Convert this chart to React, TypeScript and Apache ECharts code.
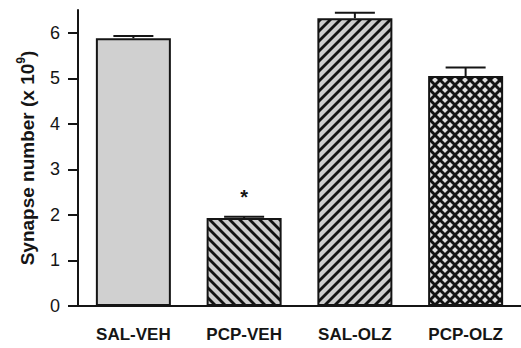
import React, { useEffect, useRef } from "react";
import * as echarts from "echarts";

const categories = ["SAL-VEH", "PCP-VEH", "SAL-OLZ", "PCP-OLZ"];
const values = [5.88, 1.93, 6.32, 5.05];
const errors = [0.05, 0.03, 0.12, 0.19];
const significance = ["", "*", "", ""];
const yTicks = [0, 1, 2, 3, 4, 5, 6];
const patterns = ["solid", "back", "fwd", "cross"];

const FONT = "'Liberation Sans', Arial, Helvetica, sans-serif";
const INK = "#151515";

function makeTile(kind: string): any {
  const size = 10;
  const c = document.createElement("canvas");
  c.width = size;
  c.height = size;
  const g = c.getContext("2d")!;
  g.fillStyle = kind === "cross" ? "#dedede" : "#cccccc";
  g.fillRect(0, 0, size, size);
  g.strokeStyle = "#111";
  g.lineCap = "butt";
  const drawBack = (w: number) => {
    g.lineWidth = w;
    for (let k = -1; k <= 1; k++) {
      g.beginPath();
      g.moveTo(k * size - 2, -2);
      g.lineTo(k * size + size + 2, size + 2);
      g.stroke();
    }
  };
  const drawFwd = (w: number) => {
    g.lineWidth = w;
    for (let k = -1; k <= 1; k++) {
      g.beginPath();
      g.moveTo(k * size - 2, size + 2);
      g.lineTo(k * size + size + 2, -2);
      g.stroke();
    }
  };
  if (kind === "back") drawBack(2.8);
  if (kind === "fwd") drawFwd(2.8);
  if (kind === "cross") {
    drawBack(2.9);
    drawFwd(2.9);
  }
  return c;
}

export default function App() {
  const ref = useRef<HTMLDivElement>(null);
  useEffect(() => {
    if (!ref.current) return;
    const chart = echarts.init(ref.current, undefined, { renderer: "svg" });
    const barData = values.map((v, i) => {
      const kind = patterns[i];
      const color =
        kind === "solid"
          ? "#d0d0d0"
          : { image: makeTile(kind), repeat: "repeat" };
      return {
        value: v,
        itemStyle: { color, borderColor: INK, borderWidth: 2 },
      };
    });
    chart.setOption({
      animation: false,
      grid: { left: 78, right: 0, top: 10, bottom: 42, containLabel: false },
      xAxis: {
        type: "category",
        data: categories,
        axisLine: { lineStyle: { color: INK, width: 2 } },
        axisTick: {
          alignWithLabel: true,
          length: 9,
          lineStyle: { color: INK, width: 2 },
        },
        axisLabel: {
          color: INK,
          fontFamily: FONT,
          fontWeight: "bold",
          fontSize: 17,
          margin: 20,
        },
      },
      yAxis: {
        type: "value",
        min: 0,
        max: 6.5,
        interval: 1,
        splitLine: { show: false },
        axisLine: { show: true, lineStyle: { color: INK, width: 2 } },
        axisTick: {
          show: true,
          length: 10,
          customValues: yTicks,
          lineStyle: { color: INK, width: 2 },
        },
        axisLabel: {
          color: INK,
          fontFamily: FONT,
          fontSize: 18,
          margin: 18,
          customValues: yTicks,
        },
        name: "{a|Synapse number (x 10}{s|9}{a|)}",
        nameLocation: "middle",
        nameGap: 39,
        nameRotate: 90,
        nameTextStyle: {
          rich: {
            a: {
              fontFamily: FONT,
              fontWeight: "bold",
              fontSize: 19,
              color: INK,
              lineHeight: 24,
            },
            s: {
              fontFamily: FONT,
              fontWeight: "bold",
              fontSize: 12,
              color: INK,
              lineHeight: 24,
              verticalAlign: "top",
            },
          },
        },
      },
      series: [
        {
          type: "bar",
          data: barData,
          barWidth: 75,
          label: {
            show: true,
            position: "top",
            distance: 11,
            formatter: (p: any) => significance[p.dataIndex] || "",
            fontFamily: FONT,
            fontWeight: "bold",
            fontSize: 20,
            color: INK,
          },
          z: 2,
        },
        {
          type: "custom",
          z: 3,
          data: values.map((v, i) => [i, v, errors[i]]),
          renderItem: (params: any, api: any) => {
            const x = api.value(0);
            const v = api.value(1);
            const e = api.value(2);
            const p0 = api.coord([x, v]);
            const p1 = api.coord([x, v + e]);
            const half = 20;
            const style = { stroke: INK, lineWidth: 2 };
            return {
              type: "group",
              children: [
                {
                  type: "line",
                  shape: { x1: p0[0], y1: p0[1], x2: p1[0], y2: p1[1] },
                  style,
                },
                {
                  type: "line",
                  shape: {
                    x1: p1[0] - half,
                    y1: p1[1],
                    x2: p1[0] + half,
                    y2: p1[1],
                  },
                  style,
                },
              ],
            };
          },
        },
      ],
    });
    return () => chart.dispose();
  }, []);
  return (
    <div
      ref={ref}
      style={{ position: "absolute", left: 0, top: 0, width: 521, height: 348 }}
    />
  );
}
